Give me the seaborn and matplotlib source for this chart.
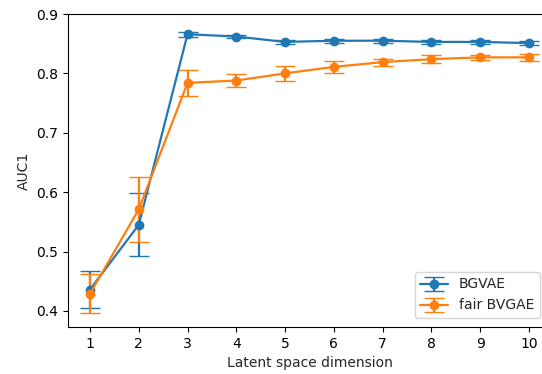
import matplotlib
matplotlib.use("Agg")
import matplotlib.pyplot as plt
import numpy as np
import seaborn as sns

# Latent space dimensions
dims = [1, 2, 3, 4, 5, 6, 7, 8, 9, 10]

# BGVAE AUC1 mean and std
bgvae_mean = [0.436, 0.545, 0.866, 0.862, 0.853, 0.855, 0.855, 0.853, 0.853, 0.851]
bgvae_err = [0.031, 0.053, 0.004, 0.003, 0.003, 0.003, 0.003, 0.003, 0.003, 0.003]

# fair BVGAE AUC1 mean and std
fair_mean = [0.429, 0.571, 0.784, 0.788, 0.800, 0.811, 0.819, 0.824, 0.827, 0.827]
fair_err = [0.033, 0.055, 0.022, 0.011, 0.012, 0.010, 0.006, 0.007, 0.004, 0.006]

sns.set_style("ticks")
plt.rcParams['font.family'] = ['DejaVu Sans']
colors = sns.color_palette("tab10")

fig = plt.figure(figsize=(5.42, 3.74), dpi=100)
ax = fig.add_axes([68 / 542, 1 - 327 / 374, (551 - 68) / 542, (327 - 14) / 374])

ax.errorbar(dims, bgvae_mean, yerr=bgvae_err, color=colors[0], marker='o',
            markersize=6, capsize=7, linewidth=1.6, label='BGVAE')
ax.errorbar(dims, fair_mean, yerr=fair_err, color=colors[1], marker='o',
            markersize=6, capsize=7, linewidth=1.6, label='fair BVGAE')

ax.set_xlabel('Latent space dimension')
ax.set_ylabel('AUC1')
ax.set_xticks(dims)
ax.set_xlim(0.55, 10.45)
ax.set_ylim(0.373, 0.9)
ax.set_yticks([0.4, 0.5, 0.6, 0.7, 0.8, 0.9])
for s in ax.spines.values():
    s.set_color('black')
    s.set_linewidth(0.8)
ax.tick_params(colors='black', labelsize=10)
ax.legend(loc='lower right', fontsize=10, borderaxespad=0,
          bbox_to_anchor=(540 / 542, 1 - 318 / 374), bbox_transform=fig.transFigure)

fig.savefig('out.png', dpi=100)
